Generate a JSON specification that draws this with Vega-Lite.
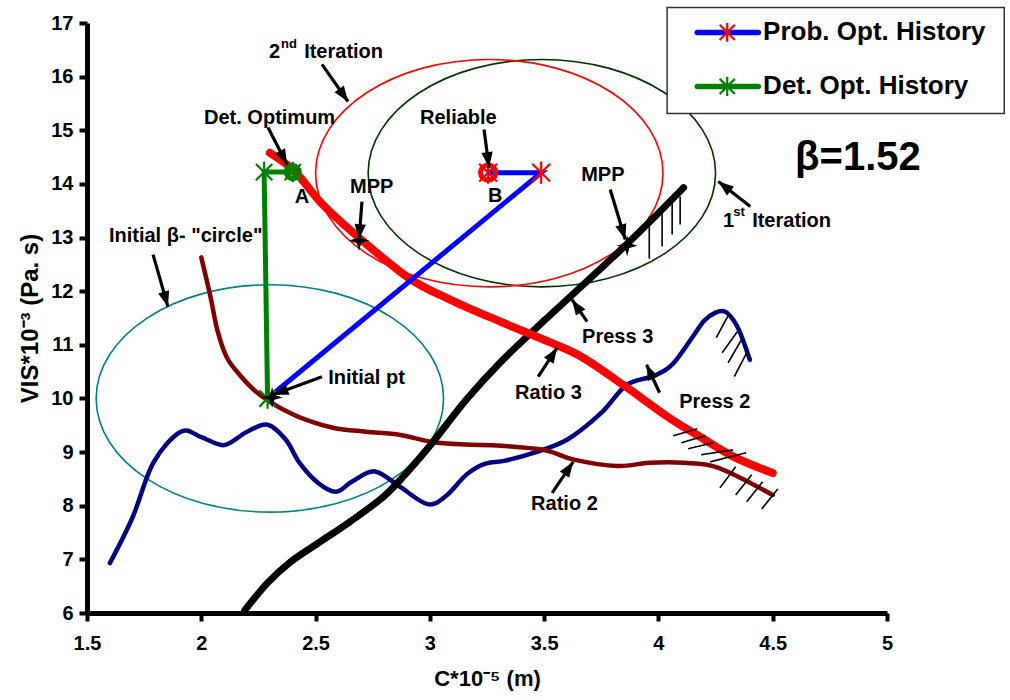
{
  "$schema": "https://vega.github.io/schema/vega-lite/v6.json",
  "width": 800,
  "height": 590,
  "autosize": {"type": "none"},
  "padding": {"left": 87, "top": 23, "right": 123, "bottom": 87},
  "background": "white",
  "config": {
    "view": {"stroke": null},
    "font": "Liberation Sans"
  },
  "datasets": {
    "ellipses": [
      {"e": "c0", "i": 0, "x": 3.06, "y": 10.0}, {"e": "c0", "i": 1, "x": 3.002, "y": 10.811}, {"e": "c0", "i": 2, "x": 2.837, "y": 11.499}, {"e": "c0", "i": 3, "x": 2.591, "y": 11.959},
      {"e": "c0", "i": 4, "x": 2.3, "y": 12.12}, {"e": "c0", "i": 5, "x": 2.009, "y": 11.959}, {"e": "c0", "i": 6, "x": 1.763, "y": 11.499}, {"e": "c0", "i": 7, "x": 1.598, "y": 10.811},
      {"e": "c0", "i": 8, "x": 1.54, "y": 10.0}, {"e": "c0", "i": 9, "x": 1.598, "y": 9.189}, {"e": "c0", "i": 10, "x": 1.763, "y": 8.501}, {"e": "c0", "i": 11, "x": 2.009, "y": 8.041},
      {"e": "c0", "i": 12, "x": 2.3, "y": 7.88}, {"e": "c0", "i": 13, "x": 2.591, "y": 8.041}, {"e": "c0", "i": 14, "x": 2.837, "y": 8.501}, {"e": "c0", "i": 15, "x": 3.002, "y": 9.189},
      {"e": "c1", "i": 0, "x": 4.25, "y": 14.2}, {"e": "c1", "i": 1, "x": 4.192, "y": 15.011}, {"e": "c1", "i": 2, "x": 4.027, "y": 15.699}, {"e": "c1", "i": 3, "x": 3.781, "y": 16.159},
      {"e": "c1", "i": 4, "x": 3.49, "y": 16.32}, {"e": "c1", "i": 5, "x": 3.199, "y": 16.159}, {"e": "c1", "i": 6, "x": 2.953, "y": 15.699}, {"e": "c1", "i": 7, "x": 2.788, "y": 15.011},
      {"e": "c1", "i": 8, "x": 2.73, "y": 14.2}, {"e": "c1", "i": 9, "x": 2.788, "y": 13.389}, {"e": "c1", "i": 10, "x": 2.953, "y": 12.701}, {"e": "c1", "i": 11, "x": 3.199, "y": 12.241},
      {"e": "c1", "i": 12, "x": 3.49, "y": 12.08}, {"e": "c1", "i": 13, "x": 3.781, "y": 12.241}, {"e": "c1", "i": 14, "x": 4.027, "y": 12.701}, {"e": "c1", "i": 15, "x": 4.192, "y": 13.389},
      {"e": "c2", "i": 0, "x": 4.02, "y": 14.2}, {"e": "c2", "i": 1, "x": 3.962, "y": 15.011}, {"e": "c2", "i": 2, "x": 3.797, "y": 15.699}, {"e": "c2", "i": 3, "x": 3.551, "y": 16.159},
      {"e": "c2", "i": 4, "x": 3.26, "y": 16.32}, {"e": "c2", "i": 5, "x": 2.969, "y": 16.159}, {"e": "c2", "i": 6, "x": 2.723, "y": 15.699}, {"e": "c2", "i": 7, "x": 2.558, "y": 15.011},
      {"e": "c2", "i": 8, "x": 2.5, "y": 14.2}, {"e": "c2", "i": 9, "x": 2.558, "y": 13.389}, {"e": "c2", "i": 10, "x": 2.723, "y": 12.701}, {"e": "c2", "i": 11, "x": 2.969, "y": 12.241},
      {"e": "c2", "i": 12, "x": 3.26, "y": 12.08}, {"e": "c2", "i": 13, "x": 3.551, "y": 12.241}, {"e": "c2", "i": 14, "x": 3.797, "y": 12.701}, {"e": "c2", "i": 15, "x": 3.962, "y": 13.389}
    ],
    "press2": [
      {"x": 1.6, "y": 6.93}, {"x": 1.7, "y": 7.79}, {"x": 1.79, "y": 8.8}, {"x": 1.91, "y": 9.38}, {"x": 2.0, "y": 9.28}, {"x": 2.1, "y": 9.13},
      {"x": 2.2, "y": 9.38}, {"x": 2.29, "y": 9.51}, {"x": 2.37, "y": 9.23}, {"x": 2.43, "y": 8.8}, {"x": 2.51, "y": 8.43}, {"x": 2.59, "y": 8.26},
      {"x": 2.66, "y": 8.45}, {"x": 2.76, "y": 8.64}, {"x": 2.87, "y": 8.35}, {"x": 2.99, "y": 8.03}, {"x": 3.07, "y": 8.18},
      {"x": 3.16, "y": 8.58}, {"x": 3.24, "y": 8.78}, {"x": 3.33, "y": 8.84}, {"x": 3.45, "y": 8.98}, {"x": 3.6, "y": 9.23}, {"x": 3.75, "y": 9.73},
      {"x": 3.86, "y": 10.25}, {"x": 3.98, "y": 10.42}, {"x": 4.06, "y": 10.63}, {"x": 4.15, "y": 11.15}, {"x": 4.2, "y": 11.45}, {"x": 4.25, "y": 11.6},
      {"x": 4.29, "y": 11.62}, {"x": 4.33, "y": 11.45}, {"x": 4.36, "y": 11.2}, {"x": 4.4, "y": 10.72}
    ],
    "ratio2": [
      {"x": 2.0, "y": 12.63}, {"x": 2.04, "y": 11.9}, {"x": 2.07, "y": 11.28}, {"x": 2.11, "y": 10.78}, {"x": 2.16, "y": 10.48}, {"x": 2.23, "y": 10.16},
      {"x": 2.29, "y": 9.97}, {"x": 2.36, "y": 9.79}, {"x": 2.46, "y": 9.6}, {"x": 2.58, "y": 9.45}, {"x": 2.72, "y": 9.38}, {"x": 2.87, "y": 9.32},
      {"x": 3.01, "y": 9.19}, {"x": 3.16, "y": 9.14}, {"x": 3.31, "y": 9.12}, {"x": 3.5, "y": 9.04}, {"x": 3.63, "y": 8.86}, {"x": 3.82, "y": 8.74},
      {"x": 3.96, "y": 8.8}, {"x": 4.11, "y": 8.8}, {"x": 4.26, "y": 8.71}, {"x": 4.5, "y": 8.2}
    ],
    "press3": [
      {"x": 2.19, "y": 6.05}, {"x": 2.29, "y": 6.56}, {"x": 2.39, "y": 6.95}, {"x": 2.51, "y": 7.3}, {"x": 2.65, "y": 7.7}, {"x": 2.8, "y": 8.18},
      {"x": 2.91, "y": 8.67}, {"x": 3.01, "y": 9.17}, {"x": 3.16, "y": 9.98}, {"x": 3.31, "y": 10.68}, {"x": 3.5, "y": 11.45}, {"x": 3.86, "y": 12.87},
      {"x": 4.11, "y": 13.93}
    ],
    "ratio3": [
      {"x": 2.3, "y": 14.58}, {"x": 2.41, "y": 14.23}, {"x": 2.53, "y": 13.62}, {"x": 2.7, "y": 12.96}, {"x": 2.91, "y": 12.24}, {"x": 3.09, "y": 11.84},
      {"x": 3.31, "y": 11.43}, {"x": 3.53, "y": 11.04}, {"x": 3.67, "y": 10.76}, {"x": 3.85, "y": 10.24}, {"x": 4.04, "y": 9.66}, {"x": 4.18, "y": 9.29},
      {"x": 4.33, "y": 8.91}, {"x": 4.5, "y": 8.61}
    ],
    "hatch": [
      {"x": 4.095, "y": 13.764, "x2": 4.095, "y2": 13.241}, {"x": 4.06, "y": 13.652, "x2": 4.06, "y2": 13.055},
      {"x": 4.016, "y": 13.54, "x2": 4.016, "y2": 12.831}, {"x": 3.96, "y": 13.391, "x2": 3.96, "y2": 12.607},
      {"x": 4.253, "y": 11.132, "x2": 4.31, "y2": 11.58}, {"x": 4.279, "y": 10.853, "x2": 4.345, "y2": 11.245},
      {"x": 4.305, "y": 10.666, "x2": 4.366, "y2": 11.114}, {"x": 4.332, "y": 10.405, "x2": 4.389, "y2": 10.871},
      {"x": 4.065, "y": 9.303, "x2": 4.17, "y2": 9.434}, {"x": 4.1, "y": 9.173, "x2": 4.205, "y2": 9.303},
      {"x": 4.13, "y": 9.061, "x2": 4.239, "y2": 9.173}, {"x": 4.187, "y": 8.949, "x2": 4.327, "y2": 9.042},
      {"x": 4.226, "y": 8.818, "x2": 4.384, "y2": 8.986},
      {"x": 4.269, "y": 8.333, "x2": 4.338, "y2": 8.725}, {"x": 4.338, "y": 8.202, "x2": 4.408, "y2": 8.576},
      {"x": 4.386, "y": 8.072, "x2": 4.456, "y2": 8.445}, {"x": 4.452, "y": 7.941, "x2": 4.522, "y2": 8.314}
    ],
    "prob": [
      {"i": 0, "x": 2.29, "y": 10.0}, {"i": 1, "x": 3.487, "y": 14.21}, {"i": 2, "x": 3.255, "y": 14.21}
    ],
    "det": [
      {"i": 0, "x": 2.29, "y": 10.0}, {"i": 1, "x": 2.275, "y": 14.22}, {"i": 2, "x": 2.4, "y": 14.22}
    ],
    "mpp": [
      {"x": 2.69, "y": 12.943}, {"x": 3.863, "y": 12.849}, {"x": 2.31, "y": 10.02}
    ],
    "arrows": [
      {"tx": 2.528, "ty": 16.228, "x": 2.642, "y": 15.537, "a": 145},
      {"tx": 2.292, "ty": 15.052, "x": 2.375, "y": 14.361, "a": 153},
      {"tx": 2.703, "ty": 13.671, "x": 2.69, "y": 12.962, "a": 184.5},
      {"tx": 1.789, "ty": 12.682, "x": 1.854, "y": 11.711, "a": 164},
      {"tx": 2.528, "ty": 10.405, "x": 2.314, "y": 10.069, "a": 250},
      {"tx": 3.237, "ty": 15.015, "x": 3.259, "y": 14.305, "a": 172.5},
      {"tx": 3.789, "ty": 13.895, "x": 3.855, "y": 12.962, "a": 163},
      {"tx": 4.402, "ty": 13.577, "x": 4.262, "y": 14.044, "a": 308},
      {"tx": 3.688, "ty": 11.431, "x": 3.622, "y": 11.842, "a": 326},
      {"tx": 3.474, "ty": 10.405, "x": 3.557, "y": 10.946, "a": 33},
      {"tx": 4.005, "ty": 10.106, "x": 3.948, "y": 10.629, "a": 335},
      {"tx": 3.535, "ty": 8.24, "x": 3.627, "y": 8.818, "a": 34}
    ],
    "labels": [
      {"t": "2", "x": 2.2965, "y": 16.452},
      {"t": "Iteration", "x": 2.45, "y": 16.452},
      {"t": "Det. Optimum", "x": 2.012, "y": 15.22},
      {"t": "MPP", "x": 2.651, "y": 13.951},
      {"t": "Initial β- \"circle\"", "x": 1.596, "y": 13.036},
      {"t": "Reliable", "x": 2.957, "y": 15.22},
      {"t": "MPP", "x": 3.662, "y": 14.175},
      {"t": "1", "x": 4.283, "y": 13.316},
      {"t": "Iteration", "x": 4.41, "y": 13.316},
      {"t": "Press 3", "x": 3.666, "y": 11.151},
      {"t": "Ratio 3", "x": 3.373, "y": 10.106},
      {"t": "Press 2", "x": 4.091, "y": 9.938},
      {"t": "Ratio 2", "x": 3.443, "y": 8.034},
      {"t": "Initial pt", "x": 2.555, "y": 10.386}
    ],
    "sups": [
      {"t": "nd", "x": 2.349, "y": 16.601},
      {"t": "st", "x": 4.327, "y": 13.484}
    ],
    "letters": [
      {"t": "A", "x": 2.441, "y": 13.764},
      {"t": "B", "x": 3.286, "y": 13.783}
    ],
    "beta": [{"t": "β=1.52", "x": 4.598, "y": 14.492}],
    "legendbox": [{"x": 4.038, "x2": 5.513, "y": 17.291, "y2": 15.313}],
    "legenditems": [
      {"s": "Prob. Opt. History", "x": 4.17, "x2": 4.437, "xs": 4.301, "xt": 4.458, "y": 16.825},
      {"s": "Det. Opt. History", "x": 4.17, "x2": 4.437, "xs": 4.301, "xt": 4.458, "y": 15.817}
    ]
  },
  "encoding": {
    "x": {
      "field": "x",
      "type": "quantitative",
      "scale": {"domain": [1.5, 5], "nice": false, "zero": false},
      "axis": {
        "values": [1.5, 2, 2.5, 3, 3.5, 4, 4.5, 5], "format": "~g",
        "grid": false, "domainColor": "black", "domainWidth": 5, "tickColor": "black", "tickWidth": 4, "tickSize": 8,
        "labelFont": "Liberation Sans", "labelFontSize": 20, "labelFontWeight": "bold", "labelColor": "black", "labelFlush": false, "labelPadding": 12,
        "titleFont": "Liberation Sans", "titleFontSize": 22, "titleFontWeight": "bold", "titleColor": "black", "titlePadding": 15,
        "title": "C*10⁻⁵ (m)"
      }
    },
    "y": {
      "field": "y",
      "type": "quantitative",
      "scale": {"domain": [6, 17], "nice": false, "zero": false},
      "axis": {
        "values": [6, 7, 8, 9, 10, 11, 12, 13, 14, 15, 16, 17],
        "grid": false, "domainColor": "black", "domainWidth": 5, "tickColor": "black", "tickWidth": 4, "tickSize": 8,
        "labelFont": "Liberation Sans", "labelFontSize": 20, "labelFontWeight": "bold", "labelColor": "black", "labelFlush": false, "labelPadding": 6,
        "titleFont": "Liberation Sans", "titleFontSize": 24, "titleFontWeight": "bold", "titleColor": "black", "titlePadding": 8,
        "title": "VIS*10⁻³ (Pa. s)"
      }
    }
  },
  "layer": [
    {
      "data": {"name": "ellipses"},
      "mark": {"type": "line", "interpolate": "cardinal-closed", "strokeWidth": 1.6},
      "encoding": {
        "order": {"field": "i", "type": "quantitative"},
        "color": {"field": "e", "type": "nominal", "scale": {"domain": ["c0", "c1", "c2"], "range": ["#008080", "#003300", "#FF0000"]}, "legend": null}
      }
    },
    {
      "data": {"name": "press2"},
      "mark": {"type": "line", "interpolate": "cardinal", "color": "#000080", "strokeWidth": 4.5, "strokeCap": "round"},
      "encoding": {}
    },
    {
      "data": {"name": "ratio2"},
      "mark": {"type": "line", "interpolate": "cardinal", "color": "#800000", "strokeWidth": 4.5, "strokeCap": "round"},
      "encoding": {}
    },
    {
      "data": {"name": "press3"},
      "mark": {"type": "line", "interpolate": "cardinal", "color": "black", "strokeWidth": 7, "strokeCap": "round"},
      "encoding": {}
    },
    {
      "data": {"name": "ratio3"},
      "mark": {"type": "line", "interpolate": "cardinal", "color": "#FF0000", "strokeWidth": 8, "strokeCap": "round"},
      "encoding": {}
    },
    {
      "data": {"name": "hatch"},
      "mark": {"type": "rule", "color": "black", "strokeWidth": 1.6},
      "encoding": {"x2": {"field": "x2"}, "y2": {"field": "y2"}}
    },
    {
      "data": {"name": "prob"},
      "mark": {"type": "line", "color": "#0000FF", "strokeWidth": 5},
      "encoding": {"order": {"field": "i", "type": "quantitative"}}
    },
    {
      "data": {"name": "det"},
      "mark": {"type": "line", "color": "#008000", "strokeWidth": 5},
      "encoding": {"order": {"field": "i", "type": "quantitative"}}
    },
    {
      "data": {"name": "det"},
      "mark": {"type": "point", "shape": "M0,-1L0,1M-0.8,-0.8L0.8,0.8M-0.8,0.8L0.8,-0.8", "filled": false, "color": "#008000", "strokeWidth": 2.2, "size": 420, "opacity": 1},
      "encoding": {}
    },
    {
      "data": {"name": "prob"},
      "transform": [{"filter": "datum.i > 0"}],
      "mark": {"type": "point", "shape": "M0,-1L0,1M-0.8,-0.8L0.8,0.8M-0.8,0.8L0.8,-0.8", "filled": false, "color": "#FF0000", "strokeWidth": 2.2, "size": 500, "opacity": 1},
      "encoding": {}
    },
    {
      "data": {"name": "prob"},
      "transform": [{"filter": "datum.i == 2"}],
      "mark": {"type": "point", "shape": "circle", "filled": false, "color": "#FF0000", "strokeWidth": 5, "size": 230, "opacity": 1},
      "encoding": {}
    },
    {
      "data": {"name": "det"},
      "transform": [{"filter": "datum.i == 2"}],
      "mark": {"type": "point", "shape": "circle", "filled": false, "color": "#008000", "strokeWidth": 5, "size": 170, "opacity": 1},
      "encoding": {}
    },
    {
      "data": {"name": "mpp"},
      "mark": {"type": "point", "shape": "M0,-1L0.22,-0.22L1,0L0.22,0.22L0,1L-0.22,0.22L-1,0L-0.22,-0.22Z", "filled": true, "color": "black", "size": 440, "opacity": 1},
      "encoding": {}
    },
    {
      "data": {"name": "arrows"},
      "mark": {"type": "rule", "color": "black", "strokeWidth": 3.2},
      "encoding": {"x2": {"field": "tx"}, "y2": {"field": "ty"}}
    },
    {
      "data": {"name": "arrows"},
      "mark": {"type": "point", "shape": "M0,0L-0.5,1.35L0.5,1.35Z", "filled": true, "color": "black", "size": 520, "opacity": 1},
      "encoding": {"angle": {"field": "a", "type": "quantitative", "scale": null}}
    },
    {
      "data": {"name": "labels"},
      "mark": {"type": "text", "align": "left", "baseline": "middle", "font": "Liberation Sans", "fontWeight": "bold", "fontSize": 20, "color": "black"},
      "encoding": {"text": {"field": "t"}}
    },
    {
      "data": {"name": "sups"},
      "mark": {"type": "text", "align": "left", "baseline": "middle", "font": "Liberation Sans", "fontWeight": "bold", "fontSize": 13, "color": "black"},
      "encoding": {"text": {"field": "t"}}
    },
    {
      "data": {"name": "letters"},
      "mark": {"type": "text", "align": "center", "baseline": "middle", "font": "Liberation Sans", "fontWeight": "bold", "fontSize": 20, "color": "black"},
      "encoding": {"text": {"field": "t"}}
    },
    {
      "data": {"name": "beta"},
      "mark": {"type": "text", "align": "left", "baseline": "middle", "font": "Liberation Sans", "fontWeight": "bold", "fontSize": 40, "color": "black"},
      "encoding": {"text": {"field": "t"}}
    },
    {
      "data": {"name": "legendbox"},
      "mark": {"type": "rect", "fill": "white", "stroke": "#333333", "strokeWidth": 1.5},
      "encoding": {"x2": {"field": "x2"}, "y2": {"field": "y2"}}
    },
    {
      "data": {"name": "legenditems"},
      "transform": [{"filter": "datum.s == 'Prob. Opt. History'"}],
      "mark": {"type": "rule", "strokeWidth": 5.5, "strokeCap": "round", "color": "#0000FF"},
      "encoding": {"x2": {"field": "x2"}}
    },
    {
      "data": {"name": "legenditems"},
      "transform": [{"filter": "datum.s == 'Det. Opt. History'"}],
      "mark": {"type": "rule", "strokeWidth": 5.5, "strokeCap": "round", "color": "#008000"},
      "encoding": {"x2": {"field": "x2"}}
    },
    {
      "data": {"name": "legenditems"},
      "transform": [{"filter": "datum.s == 'Prob. Opt. History'"}],
      "mark": {"type": "point", "shape": "M0,-1L0,1M-0.8,-0.8L0.8,0.8M-0.8,0.8L0.8,-0.8", "filled": false, "strokeWidth": 2.2, "size": 360, "opacity": 1, "color": "#FF0000"},
      "encoding": {"x": {"field": "xs", "type": "quantitative"}}
    },
    {
      "data": {"name": "legenditems"},
      "transform": [{"filter": "datum.s == 'Det. Opt. History'"}],
      "mark": {"type": "point", "shape": "M0,-1L0,1M-0.8,-0.8L0.8,0.8M-0.8,0.8L0.8,-0.8", "filled": false, "strokeWidth": 2.2, "size": 360, "opacity": 1, "color": "#008000"},
      "encoding": {"x": {"field": "xs", "type": "quantitative"}}
    },
    {
      "data": {"name": "legenditems"},
      "mark": {"type": "text", "align": "left", "baseline": "middle", "font": "Liberation Sans", "fontWeight": "bold", "fontSize": 26, "color": "black"},
      "encoding": {
        "x": {"field": "xt", "type": "quantitative"},
        "text": {"field": "s"}
      }
    }
  ]
}
